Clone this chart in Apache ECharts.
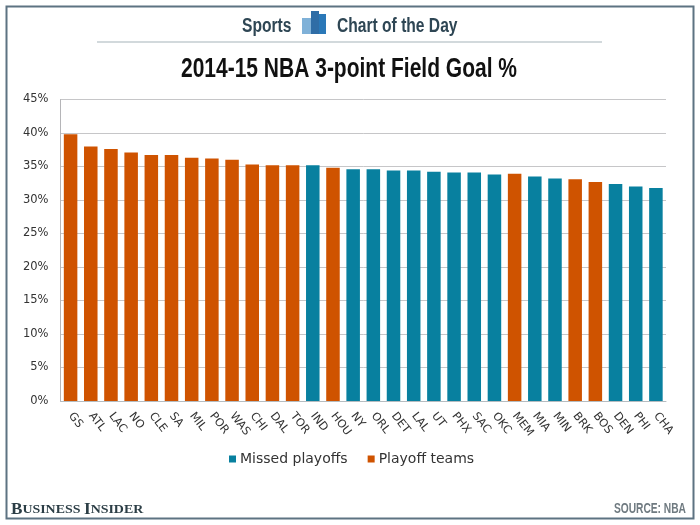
<!DOCTYPE html>
<html><head><meta charset="utf-8">
<style>html,body{margin:0;padding:0;background:#fff}#c{width:700px;height:525px}</style>
<script src="https://cdn.jsdelivr.net/npm/echarts@6/dist/echarts.min.js"></script>
</head><body><div id="c"></div>
<script>
const categories = ['GS','ATL','LAC','NO','CLE','SA','MIL','POR','WAS','CHI','DAL','TOR','IND','HOU','NY','ORL','DET','LAL','UT','PHX','SAC','OKC','MEM','MIA','MIN','BRK','BOS','DEN','PHI','CHA'];
const missedPlayoffs = [null,null,null,null,null,null,null,null,null,null,null,null,35.2,null,34.6,34.6,34.4,34.4,34.2,34.1,34.1,33.8,null,33.5,33.2,null,null,32.4,32.0,31.8];
const playoffTeams = [39.8,38.0,37.6,37.1,36.7,36.7,36.3,36.2,36.0,35.3,35.2,35.2,null,34.8,null,null,null,null,null,null,null,null,33.9,null,null,33.1,32.7,null,null,null];
const yTicks = {min:0,max:45,interval:5};
const headFont = '"Liberation Sans"';

const chart = echarts.init(document.getElementById('c'),null,{renderer:'canvas'});
const axisFont = {fontFamily:'DejaVu Sans',color:'#333'};
chart.setOption({
  animation:false,
  backgroundColor:'#fff',
  grid:{left:60.5,right:34,top:99.5,bottom:124,containLabel:false},
  legend:{
    data:['Missed playoffs','Playoff teams'],
    left:224,top:447,itemWidth:7,itemHeight:7,itemGap:20,icon:'rect',
    textStyle:{fontFamily:'DejaVu Sans',fontSize:14,color:'#333',padding:[0,0,0,-1]}
  },
  xAxis:{
    type:'category',data:categories,
    axisLine:{lineStyle:{color:'#b5bcc0',width:1}},
    axisTick:{show:false},
    axisLabel:{...axisFont,rotate:-52,interval:0,margin:13,fontSize:11.3}
  },
  yAxis:{
    type:'value',...yTicks,
    axisLine:{show:true,lineStyle:{color:'#b5b5b8',width:1}},
    axisTick:{show:false},
    axisLabel:{...axisFont,fontSize:11.5,margin:12,formatter:'{value}%'},
    splitLine:{lineStyle:{color:'#c6c6c8',width:1}}
  },
  series:[
    {name:'Missed playoffs',type:'bar',stack:'t',barWidth:'67%',data:missedPlayoffs,itemStyle:{color:'#08809f'}},
    {name:'Playoff teams',type:'bar',stack:'t',barWidth:'67%',data:playoffTeams,itemStyle:{color:'#cf5300'}}
  ],
  graphic:[
    {type:'rect',silent:true,shape:{x:6.5,y:6.5,width:687,height:512},style:{fill:'none',stroke:'#5d7382',lineWidth:2}},
    {type:'text',x:242,y:26,scaleX:0.78,style:{text:'Sports',verticalAlign:'middle',font:'bold 20px '+headFont,fill:'#2e4654'}},
    {type:'text',x:337,y:26,scaleX:0.78,style:{text:'Chart of the Day',verticalAlign:'middle',font:'bold 20px '+headFont,fill:'#2e4654'}},
    {type:'rect',shape:{x:302,y:18,width:9,height:16},style:{fill:'#7fb1d8'}},
    {type:'rect',shape:{x:311,y:11,width:8,height:23},style:{fill:'#2f6da6'}},
    {type:'rect',shape:{x:319,y:14,width:7,height:20},style:{fill:'#2a78b8'}},
    {type:'line',shape:{x1:97,y1:42,x2:602,y2:42},style:{stroke:'#a5b3ba',lineWidth:1.2}},
    {type:'text',x:349,y:69,scaleX:0.75,style:{text:'2014-15 NBA 3-point Field Goal %',align:'center',verticalAlign:'middle',font:'bold 28px '+headFont,fill:'#111'}},
    {type:'text',x:11,y:502,scaleX:1.07,style:{
      rich:{a:{font:'bold 16px "Liberation Serif"',fill:'#2c3e46'},b:{font:'bold 13px "Liberation Serif"',fill:'#2c3e46'}},
      text:'{a|B}{b|USINESS} {a|I}{b|NSIDER}'}},
    {type:'text',x:686,y:509,scaleX:0.73,style:{text:'SOURCE: NBA',align:'right',verticalAlign:'middle',font:'bold 14px '+headFont,fill:'#6f7a80'}}
  ]
});
</script></body></html>
